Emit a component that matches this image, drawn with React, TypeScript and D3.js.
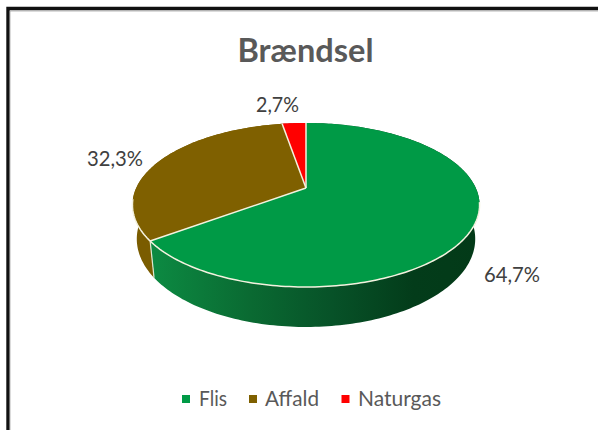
import React from "react";
import * as d3 from "d3";

const categories = ["Flis", "Affald", "Naturgas"];
const shares = [64.7, 32.3, 2.7];
const labels = ["64,7%", "32,3%", "2,7%"];
const colors = ["#009a46", "#7f6000", "#ff0000"];
const sideFills = ["url(#greenSide)", "#7a5c00", "#c00000"];

const title = "Brændsel";
const FONT = "Lato, 'Open Sans', sans-serif";

// perspective projection of the unit disc, tilted
const apexX = 306;
const apexY = 188;
const R = 169.8;
const B = 78.5;
const q = 0.207;
const depth = 40;
const bottomScale = 0.975;

function top(a: number): [number, number] {
  const u = Math.sin(a);
  const v = -Math.cos(a);
  const d = 1 - q * v;
  return [apexX + (R * u) / d, apexY + (B * v) / d];
}
function bottom(a: number): [number, number] {
  const [x, y] = top(a);
  return [apexX + (x - apexX) * bottomScale, y + depth - (1 - (y - 123) / 164) * 12];
}

const arcs = d3.pie<number>().sort(null).value((d) => d)(shares);
const line = d3.line();

function sweep(a0: number, a1: number, f: (a: number) => [number, number]) {
  const n = Math.max(2, Math.ceil((a1 - a0) / 0.02));
  return d3.range(n + 1).map((i) => f(a0 + ((a1 - a0) * i) / n));
}

function sidePath(a0: number, a1: number) {
  const t = sweep(a0, a1, top);
  const b = sweep(a0, a1, bottom);
  return d3
    .range(t.length - 1)
    .map((i) => (line([t[i], t[i + 1], b[i + 1], b[i]]) ?? "") + "Z")
    .join("");
}

const legendLayout = [
  { mx: 182, tx: 199, w: 28 },
  { mx: 249, tx: 265, w: 54 },
  { mx: 341.5, tx: 358, w: 83 },
];
const labelLayout = [
  { x: 512, y: 282, w: 56 },
  { x: 115, y: 166, w: 56 },
  { x: 277.5, y: 112, w: 43 },
];

const rimFrom = (100 * Math.PI) / 180;
const rimTo = (262 * Math.PI) / 180;
const PALE = "#f4f2df";

export default function App() {
  return (
    <svg
      width={598}
      height={430}
      style={{ position: "absolute", left: 0, top: 0, display: "block", background: "#fff" }}
    >
      <defs>
        <linearGradient id="greenSide" gradientUnits="userSpaceOnUse" x1={152} x2={479} y1={0} y2={0}>
          <stop offset="0" stopColor="#0c8a42" />
          <stop offset="0.3" stopColor="#0a6a32" />
          <stop offset="0.55" stopColor="#075228" />
          <stop offset="0.8" stopColor="#033c1a" />
          <stop offset="1" stopColor="#033a18" />
        </linearGradient>
      </defs>
      <path d="M8 430 V8.5 H598" fill="none" stroke="#111" strokeWidth={3.4} />
      <path d="M10 430 V11 H598" fill="none" stroke="#999" strokeWidth={0.7} />
      <text x={305.5} y={62} textAnchor="middle" fontFamily={FONT} fontWeight={700} fontSize={32}
        fill="#595959" textLength={136} lengthAdjust="spacingAndGlyphs">{title}</text>

      {[2, 1, 0].map((i) => (
        <path key={i} d={sidePath(arcs[i].startAngle, arcs[i].endAngle)} fill={sideFills[i]} />
      ))}
      {(() => {
        const a = arcs[1].startAngle;
        return <path d={line([top(a), bottom(a)]) ?? ""} stroke="#dfe8d0" strokeWidth={1.2} fill="none" />;
      })()}
      {arcs.map((s, i) => {
        const pts = [[apexX, apexY] as [number, number], ...sweep(s.startAngle, s.endAngle, top)];
        return <path key={i} d={(line(pts) ?? "") + "Z"} fill={colors[i]} />;
      })}
      {arcs.map((s, i) => (
        <path key={i} d={line([[apexX, apexY], top(s.startAngle)]) ?? ""} stroke={PALE} strokeWidth={1.5} fill="none" />
      ))}
      <path d={line(sweep(rimFrom, rimTo, top)) ?? ""} stroke={PALE} strokeWidth={1.5} fill="none" />

      {labels.map((t, i) => (
        <text key={t} x={labelLayout[i].x} y={labelLayout[i].y} textAnchor="middle" fontFamily={FONT}
          fontSize={21} fill="#404040" textLength={labelLayout[i].w} lengthAdjust="spacingAndGlyphs">{t}</text>
      ))}

      {categories.map((c, i) => (
        <g key={c}>
          <rect x={legendLayout[i].mx} y={395} width={8} height={8} fill={colors[i]} />
          <text x={legendLayout[i].tx} y={406} fontFamily={FONT} fontSize={21} fill="#595959"
            textLength={legendLayout[i].w} lengthAdjust="spacingAndGlyphs">{c}</text>
        </g>
      ))}
    </svg>
  );
}
